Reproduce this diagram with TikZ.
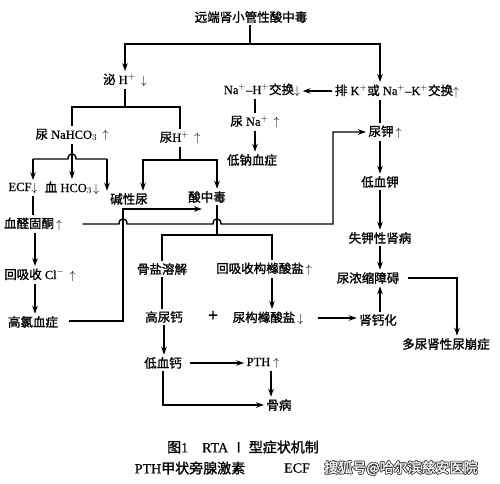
\documentclass[tikz,border=0pt]{standalone}
\usepackage{fontspec}
\setmainfont{Liberation Serif}[FakeBold=0.6]
\newfontfamily\cjk[FakeBold=1.2]{Noto Sans CJK SC}
\usetikzlibrary{arrows.meta,calc}
\newcommand\zh[1]{{\cjk #1}}
\begin{document}
\begin{tikzpicture}[x=1pt,y=-1pt,line width=1.4pt,
  lbl/.style={inner sep=0pt,outer sep=2.5pt,font=\fontsize{12.5}{14}\selectfont},
  captxt/.style={inner sep=0pt,font=\fontsize{14}{16}\selectfont},
  arr/.style={-{Stealth[length=8pt,width=5.5pt]}}]
\useasboundingbox[fill=white] (0,0) rectangle (500,483);
% nodes
\node[lbl] (title) at (251,17) {\zh{远端肾小管性酸中毒}};
\node[lbl] (mih) at (125,80) {\zh{泌} H$^{+}\,\downarrow$};
\node[lbl] (nah) at (262,90) {Na$^{+}$--H$^{+}$\zh{交换}$\downarrow$};
\node[lbl] (paik) at (397,91) {\zh{排} K$^{+}$\zh{或} Na$^{+}$--K$^{+}$\zh{交换}$\uparrow$};
\node[lbl] (nahco) at (72,135) {\zh{尿} NaHCO$_3\,\uparrow$};
\node[lbl] (niaoh) at (180,138) {\zh{尿}H$^{+}\,\uparrow$};
\node[lbl] (niaona) at (255,122) {\zh{尿} Na$^{+}\,\uparrow$};
\node[lbl] (dina) at (252,160) {\zh{低钠血症}};
\node[lbl] (niaok) at (385,132) {\zh{尿钾}$\,\uparrow$};
\node[lbl] (ecf) at (23,188) {ECF$\downarrow$};
\node[lbl] (xhco) at (72,188) {\zh{血} HCO$_3\!\downarrow$};
\node[lbl] (jxn) at (129,199) {\zh{碱性尿}};
\node[lbl] (szd) at (207,197) {\zh{酸中毒}};
\node[lbl] (dixk) at (380,182) {\zh{低血钾}};
\node[lbl] (xqtt) at (33,224) {\zh{血醛固酮}$\,\uparrow$};
\node[lbl] (sjxsb) at (380,238) {\zh{失钾性肾病}};
\node[lbl] (hxcl) at (40,275) {\zh{回吸收} Cl$^{-}\,\uparrow$};
\node[lbl] (gyrj) at (162,269) {\zh{骨盐溶解}};
\node[lbl] (hxgy) at (264,269) {\zh{回吸收构橼酸盐}$\,\uparrow$};
\node[lbl] (nns) at (368,278) {\zh{尿浓缩障碍}};
\node[lbl] (glxz) at (33,322) {\zh{高氯血症}};
\node[lbl] (glg) at (164,317) {\zh{高尿钙}};
\node[lbl,font=\fontsize{18}{18}\selectfont\bfseries] (plus) at (213,316) {+};
\node[lbl] (ngy) at (268,318) {\zh{尿构橼酸盐}$\,\downarrow$};
\node[lbl] (sgh) at (378,320) {\zh{肾钙化}};
\node[lbl] (dnbz) at (446,344) {\zh{多尿肾性尿崩症}};
\node[lbl] (dxg) at (163,363) {\zh{低血钙}};
\node[lbl] (pth) at (263,363) {PTH $\uparrow$};
\node[lbl] (gb) at (279,405) {\zh{骨病}};
\node[captxt] (cap1) at (243,447) {\zh{图}1\quad RTA \zh{Ⅰ 型症状机制}};
\node[captxt] (cap2) at (190,468) {PTH\zh{甲状旁腺激素}};
\node[captxt] (ecf2) at (297,468) {ECF};
\foreach \dx/\dy [count=\i] in {0.7/0,-0.7/0,0/0.7,0/-0.7,0.5/0.5,-0.5/0.5,0.5/-0.5,-0.5/-0.5}
  \node[captxt,text=black!80] (wmo\i) at ($(401,468)+(\dx,\dy)$) {\zh{搜狐号@哈尔滨慈安医院}};
\node[captxt,text=white] (wm) at (401,468) {\zh{搜狐号@哈尔滨慈安医院}};
% connectors
\coordinate (t1) at (250,44);
\draw (t1 |- title.south) -- (t1);
\draw[arr] (t1) -| (mih.north);
\draw[arr] (t1) -| ($(paik.north)+(-17,0)$);
\coordinate (m1) at (125,107);
\draw (mih.south) -- (m1);
\draw (nahco.north) |- (m1) -| (niaoh.north);
% NaHCO3 branches
\draw[arr] (nahco.south) -- (xhco.north);
\coordinate (b1) at (33,159);
\coordinate (b2) at (107,159);
\draw (b1) -- (68,159) .. controls (68,152) and (76,152) .. (76,159) -- (b2);
\draw[arr] (b1) -- (b1 |- ecf.north);
\draw[arr] (b2) -- (b2 |- jxn.north);
% urine H branches
\coordinate (h1) at (180,160);
\draw (niaoh.south) -- (h1);
\draw[arr] (h1) -| ($(jxn.north)+(14,0)$);
\draw[arr] (h1) -| ($(szd.north)+(10,0)$);
% left column
\draw (b1 |- ecf.south) -- (b1 |- xqtt.north);
\draw[arr] ($(xqtt.south)+(2,0)$) coordinate (c1) -- (c1 |- hxcl.north);
\draw[arr] (c1 |- hxcl.south) -- (c1 |- glxz.north);
% aldosterone -> urine K
\coordinate (k1) at (333,224);
\draw[arr] ($(xqtt.east)+(18,0)$) -- (119,224) .. controls (119,217) and (127,217) .. (127,224)
  -- (213,224) .. controls (213,217) and (221,217) .. (221,224) -- (k1) |- (niaok.west);
% hyperchloremia -> acidosis
\coordinate (g1) at (123,321);
\coordinate (g2) at (123,209);
\coordinate (s1) at ($(szd)+(-5,0)$);
\draw[arr] ($(glxz.east)+(8,-1)$) -- (g1) -- (g2) -- (s1 |- g2);
% acidosis branches
\coordinate (s2) at (217,235);
\draw ($(szd.south)+(10,0)$) -- (s2);
\draw (gyrj.north) |- (s2) -| ($(hxgy.north)+(8,0)$);
\draw (gyrj.south) -- (gyrj.south |- glg.north);
\coordinate (r1) at ($(hxgy.south)+(8,0)$);
\draw[arr] (r1) -- (r1 |- ngy.north);
\draw[arr] ($(ngy.east)+(12,0)$) -- (sgh.west |- ngy.east);
\draw[arr] (glg.south) -- (glg.south |- dxg.north);
\draw[arr] ($(dxg.east)+(6,0)$) -- (pth.west |- dxg.east);
\coordinate (q1) at ($(pth.south)+(8,0)$);
\draw[arr] (q1) -- (q1 |- gb.north);
\draw[arr] (dxg.south) |- (gb.west);
% right column
\draw[arr] (paik.west) -- (nah.east |- paik.west);
\draw (niaona.north |- nah.south) -- (niaona.north);
\draw[arr] (niaona.south) -- (niaona.south |- dina.north);
\coordinate (p1) at ($(paik.south)+(-17,0)$);
\draw (p1) -- (p1 |- niaok.north);
\draw[arr] (dixk.north |- niaok.south) -- (dixk.north);
\draw[arr] (dixk.south) -- (dixk.south |- sjxsb.north);
\draw[arr] (sjxsb.south) -- (sjxsb.south |- nns.north);
\draw[arr] (sjxsb.south |- sgh.north) -- (sjxsb.south |- nns.south);
\coordinate (d1) at ($(dnbz.north)+(11,0)$);
\draw[arr] ($(nns.east)+(6,0)$) -| (d1);
\end{tikzpicture}
\end{document}
